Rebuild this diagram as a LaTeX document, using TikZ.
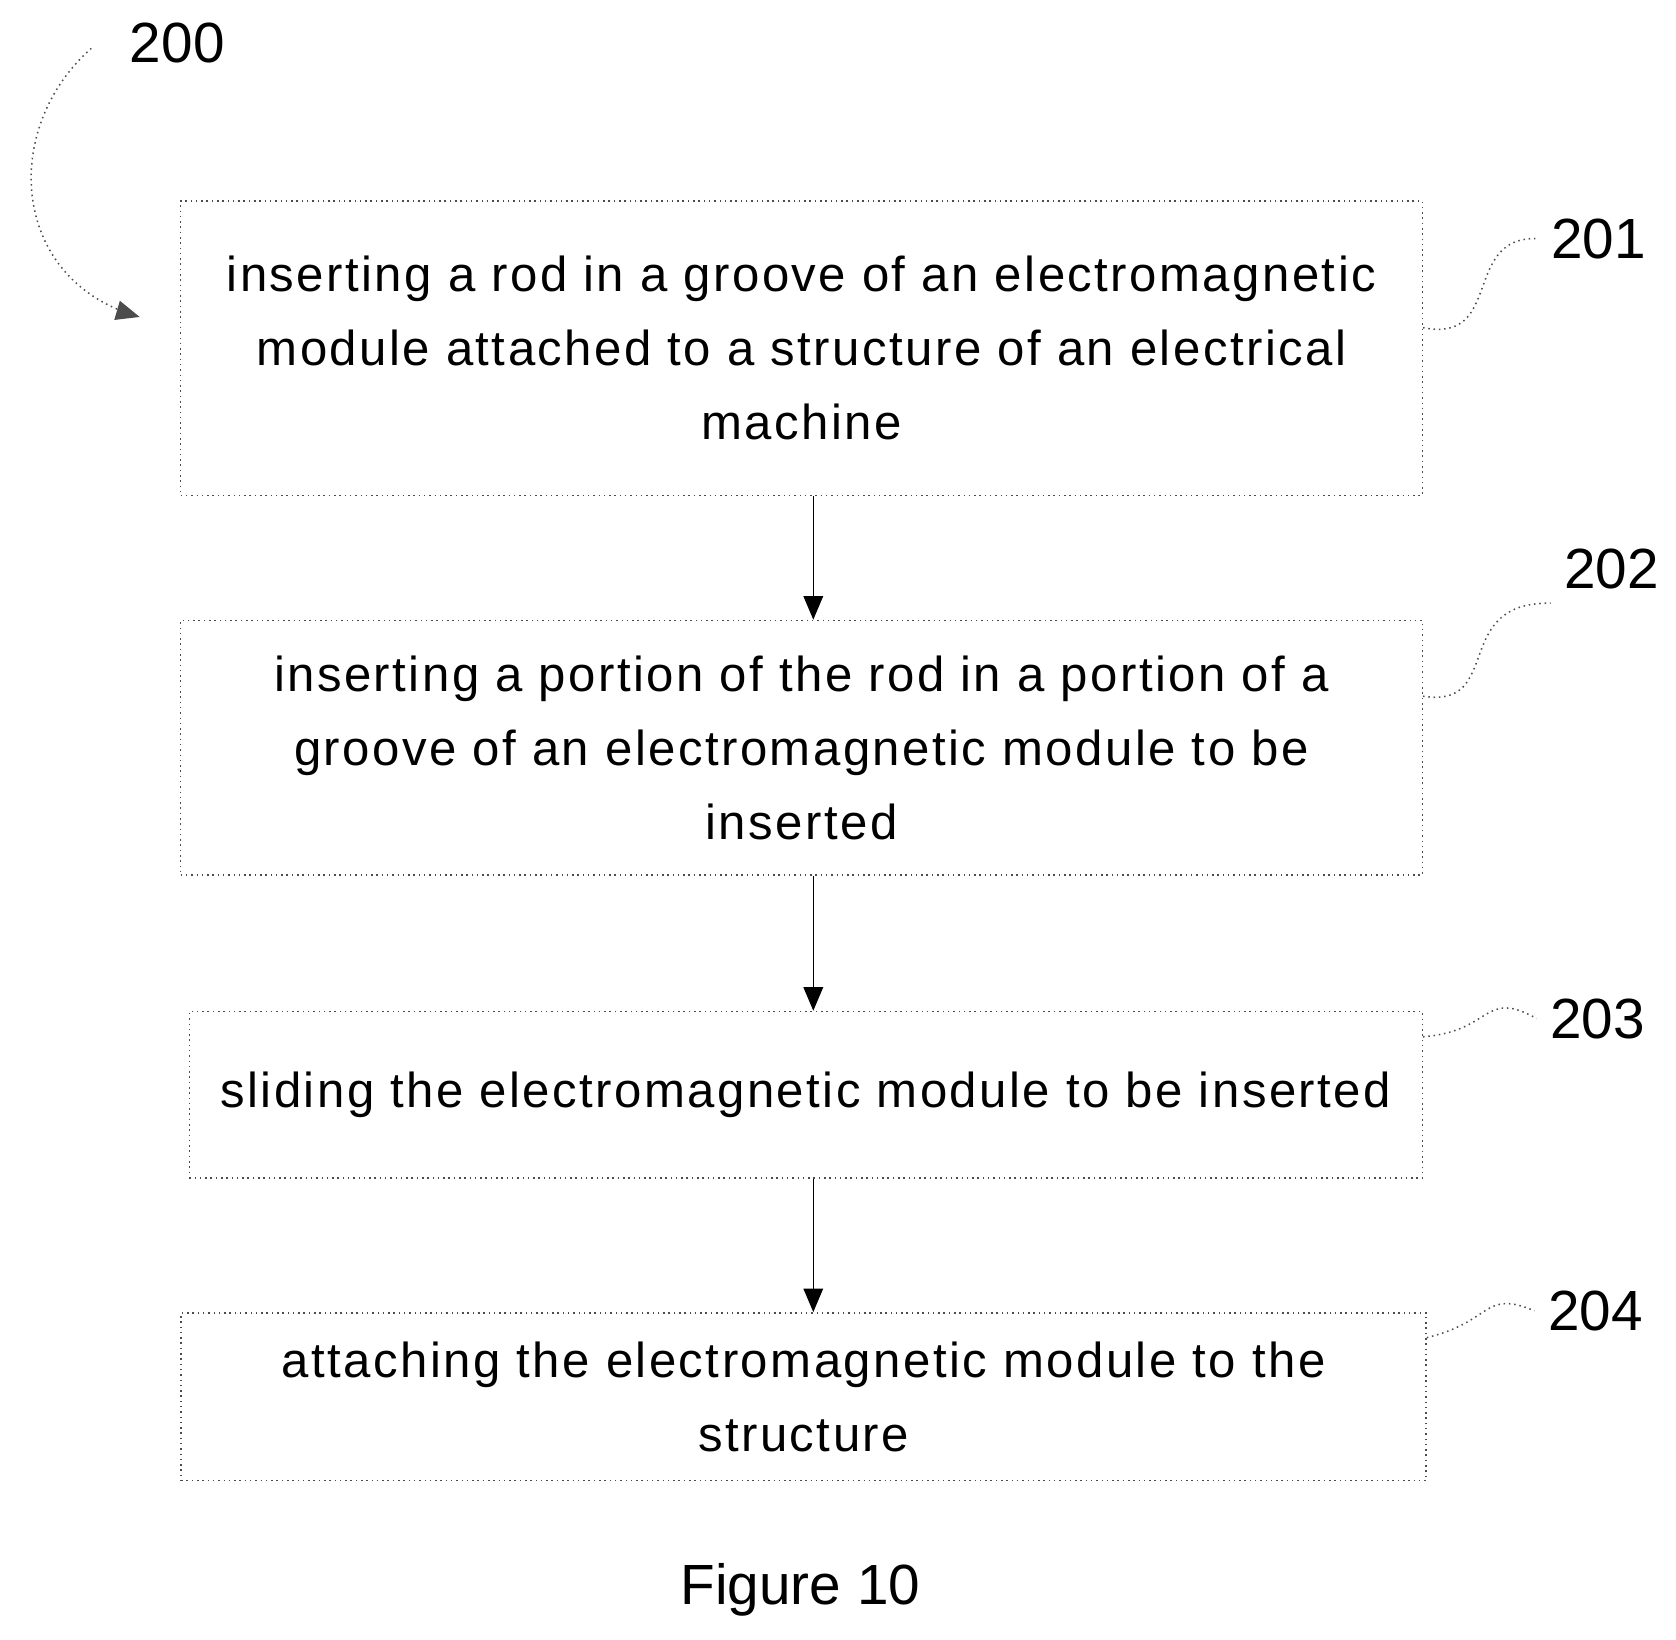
\documentclass[tikz,border=0pt]{standalone}
\usepackage{fontspec}
\setmainfont{Liberation Sans}
\newfontfamily\spacedfont[LetterSpace=5]{Liberation Sans}
\usetikzlibrary{arrows,calc,positioning,decorations.pathmorphing}
\tikzset{>=stealth'}

\begin{document}
\begin{tikzpicture}[
        x=0.01cm, y=-0.01cm,
        stepbox/.style = {draw=black!70, densely dotted, thin, align=center, inner sep=0pt,
                       font=\spacedfont\fontsize{13}{19.5}\selectfont},
        ref/.style = {font=\fontsize{15}{18}\selectfont},
        flow/.style = {->, >=triangle 45, thin},
        lead/.style = {densely dotted, thin, black!70},
        semithick]

    \useasboundingbox (0,0) rectangle (1560,1526);

    % steps
    \node[stepbox, minimum width=11.55cm, minimum height=2.74cm] (s201) at (746,324)
        {inserting a rod in a groove of an electromagnetic\\module attached to a structure of an electrical\\machine};
    \node[stepbox, minimum width=11.55cm, minimum height=2.37cm] (s202) at (746,696)
        {inserting a portion of the rod in a portion of a\\groove of an electromagnetic module to be\\inserted};
    \node[stepbox, minimum width=11.47cm, minimum height=1.55cm] (s203) at (750,1019)
        {sliding the electromagnetic module to be inserted};
    \node[stepbox, minimum width=11.58cm, minimum height=1.56cm] (s204) at (748,1300)
        {attaching the electromagnetic module to the\\structure};

    % reference numerals
    \node[ref] (r200) at (165,40) {200};
    \node[ref] (r201) at (1488,222) {201};
    \node[ref] (r202) at (1500,530) {202};
    \node[ref] (r203) at (1487,948) {203};
    \node[ref] (r204) at (1485,1220) {204};
    \node[ref] (fig) at (745,1480) {Figure 10};

    \draw[flow] (s201.south -| 757,0) -- (s202.north -| 757,0);
    \draw[flow] (s202.south -| 757,0) -- (s203.north -| 757,0);
    \draw[flow] (s203.south -| 757,0) -- (s204.north -| 757,0);

    % leaders
    \draw[lead] (s201.east |- 0,305) .. controls (1400,320) and (1360,220) .. (r201.west);
    \draw[lead] (s202.east |- 0,648) .. controls (1400,660) and (1350,560) .. (r202.south west);
    \draw[lead] (s203.east |- 0,965) .. controls (1390,960) and (1380,920) .. (r203.west);
    \draw[lead] (s204.east |- 0,1245) .. controls (1390,1230) and (1380,1200) .. (r204.west);
    \coordinate (a200) at (130,295);
    \draw[lead, ->, >=triangle 45] (85,45) .. controls (0,120) and (10,260) .. (a200);
\end{tikzpicture}
\end{document}
